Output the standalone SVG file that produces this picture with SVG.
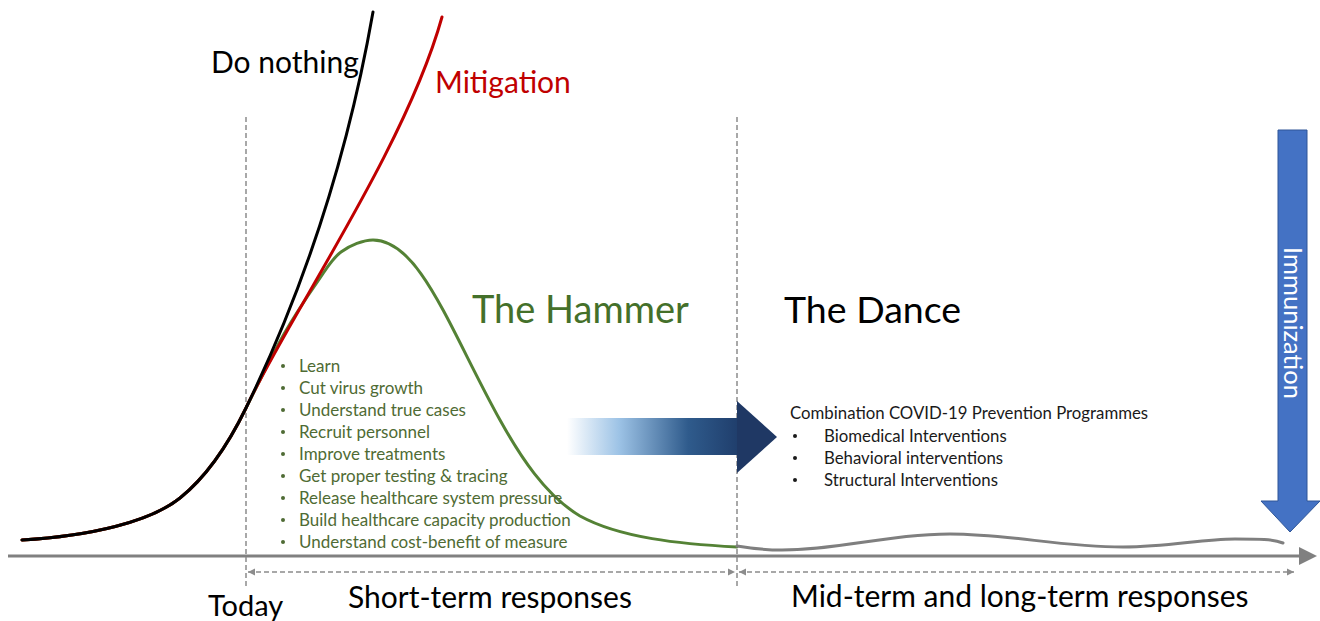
<svg xmlns="http://www.w3.org/2000/svg" width="1320" height="621" viewBox="0 0 1320 621">
  <style>
    text { font-family: Lato, "Liberation Sans", sans-serif; }
    .guide { stroke: #8c8c8c; stroke-width: 1.5; stroke-dasharray: 5 3; fill: none; }
    .span { stroke: #8c8c8c; stroke-width: 1.5; stroke-dasharray: 5 3; fill: none; }
    .curve { fill: none; stroke-width: 3; stroke-linecap: round; }
    .item { font-size: 17px; fill: #4f6b34; }
    .prog { font-size: 16.8px; fill: #1a1a1a; }
    .phase { font-size: 30px; fill: #000; }
  </style>
  <defs>
    <marker id="axisHead" markerWidth="6" markerHeight="6" refX="1" refY="3" orient="auto" markerUnits="strokeWidth">
      <path d="M0,0 L6,3 L0,6 Z" fill="#808080"/>
    </marker>
    <marker id="spanHead" markerWidth="8" markerHeight="8" refX="7" refY="4" orient="auto-start-reverse" markerUnits="userSpaceOnUse">
      <path d="M0,0.5 L7,4 L0,7.5 Z" fill="#8c8c8c"/>
    </marker>
    <linearGradient id="shaft" x1="567" y1="0" x2="740" y2="0" gradientUnits="userSpaceOnUse">
      <stop offset="0" stop-color="#ffffff"/>
      <stop offset="0.3" stop-color="#9dc3e6"/>
      <stop offset="0.7" stop-color="#2f5b8c"/>
      <stop offset="1" stop-color="#1f3d6b"/>
    </linearGradient>
  </defs>

  <!-- time axis -->
  <g id="axis">
    <line x1="8" y1="556" x2="1302" y2="556" stroke="#808080" stroke-width="3" marker-end="url(#axisHead)"/>
  </g>

  <!-- phase boundaries and spans -->
  <g id="connectors">
    <line class="guide" x1="246" y1="117" x2="246" y2="588"/>
    <line class="guide" x1="737" y1="117" x2="737" y2="588"/>
    <line class="span" x1="248" y1="572" x2="735" y2="572" marker-start="url(#spanHead)" marker-end="url(#spanHead)"/>
    <line class="span" x1="739" y1="572" x2="1294" y2="572" marker-start="url(#spanHead)" marker-end="url(#spanHead)"/>
  </g>

  <!-- epidemic curves -->
  <g id="hammer-curve">
    <path class="curve" stroke="#548235" d="M22,540 C90,536 150,522 180,498 C205,478 228,445 246,408 C255.3,389.5 272,355.2 284,334 C296,312.8 308.5,294.7 318,281 C327.5,267.3 331.8,258.8 341,252 C350.2,245.2 363.5,240 373,240 C420,240 450,330 500,420 C520,456 545,495 580,516 C620,538 680,544 737,547"/>
  </g>
  <g id="dance-curve">
    <path class="curve" stroke="#7f7f7f" d="M737,546 C755,549 765,550 782,550 C840,550 890,534 950,534 C1010,534 1060,547 1123,547 C1170,547 1200,539 1235,539 C1260,539 1272,539 1283,543"/>
  </g>
  <g id="mitigation-curve">
    <path class="curve" stroke="#c00000" d="M22,540 C90,536 150,522 180,498 C205,478 228,445 246,408 C285,322 405,150 442,17"/>
  </g>
  <g id="nothing-curve">
    <path class="curve" stroke="#000000" d="M22,540 C90,536 150,522 180,498 C205,478 228,445 246,408 C280,338 340,200 373,12"/>
  </g>

  <!-- curve labels -->
  <g id="label-nothing"><text x="211" y="73" font-size="30" fill="#000">Do nothing</text></g>
  <g id="label-mitigation"><text x="435" y="93" font-size="30" fill="#c00000">Mitigation</text></g>
  <g id="label-hammer"><text x="472" y="323" font-size="38" fill="#44702a">The Hammer</text></g>
  <g id="label-dance"><text x="784" y="323" font-size="37.5" fill="#000">The Dance</text></g>

  <!-- hammer actions -->
  <g id="hammer-actions">
    <g fill="#4f6b34">
      <circle cx="283" cy="366" r="2"/>
      <circle cx="283" cy="388" r="2"/>
      <circle cx="283" cy="410" r="2"/>
      <circle cx="283" cy="432" r="2"/>
      <circle cx="283" cy="454" r="2"/>
      <circle cx="283" cy="476" r="2"/>
      <circle cx="283" cy="498" r="2"/>
      <circle cx="283" cy="520" r="2"/>
      <circle cx="283" cy="542" r="2"/>
    </g>
    <text class="item" x="299" y="372">Learn</text>
    <text class="item" x="299" y="394">Cut virus growth</text>
    <text class="item" x="299" y="416">Understand true cases</text>
    <text class="item" x="299" y="438">Recruit personnel</text>
    <text class="item" x="299" y="460">Improve treatments</text>
    <text class="item" x="299" y="482">Get proper testing &amp; tracing</text>
    <text class="item" x="299" y="504">Release healthcare system pressure</text>
    <text class="item" x="299" y="526">Build healthcare capacity production</text>
    <text class="item" x="299" y="548">Understand cost-benefit of measure</text>
  </g>

  <!-- transition arrow -->
  <g id="transition-arrow">
    <rect x="567" y="418" width="172" height="37" fill="url(#shaft)"/>
    <path d="M737,401 L777,437 L737,473 Z" fill="#1f3864"/>
  </g>

  <!-- dance programmes -->
  <g id="dance-programmes">
    <text class="prog" x="790" y="419">Combination COVID-19 Prevention Programmes</text>
    <g fill="#1a1a1a">
      <circle cx="795" cy="436" r="2"/>
      <circle cx="795" cy="458" r="2"/>
      <circle cx="795" cy="480" r="2"/>
    </g>
    <text class="prog" x="824" y="442">Biomedical Interventions</text>
    <text class="prog" x="824" y="464">Behavioral interventions</text>
    <text class="prog" x="824" y="486">Structural Interventions</text>
  </g>

  <!-- immunization arrow -->
  <g id="immunization">
    <path d="M1278,130 L1307,130 L1307,501 L1320,501 L1290,532 L1261,501 L1278,501 Z" fill="#4472c4" stroke="#2f5597" stroke-width="1"/>
    <text x="0" y="0" transform="translate(1284,323) rotate(90)" text-anchor="middle" font-size="25.5" fill="#ffffff">Immunization</text>
  </g>

  <!-- period labels -->
  <g id="label-today"><text x="208" y="616" font-size="29" fill="#000">Today</text></g>
  <g id="label-short"><text class="phase" x="348" y="608">Short-term responses</text></g>
  <g id="label-long"><text class="phase" x="791" y="607">Mid-term and long-term responses</text></g>
</svg>
